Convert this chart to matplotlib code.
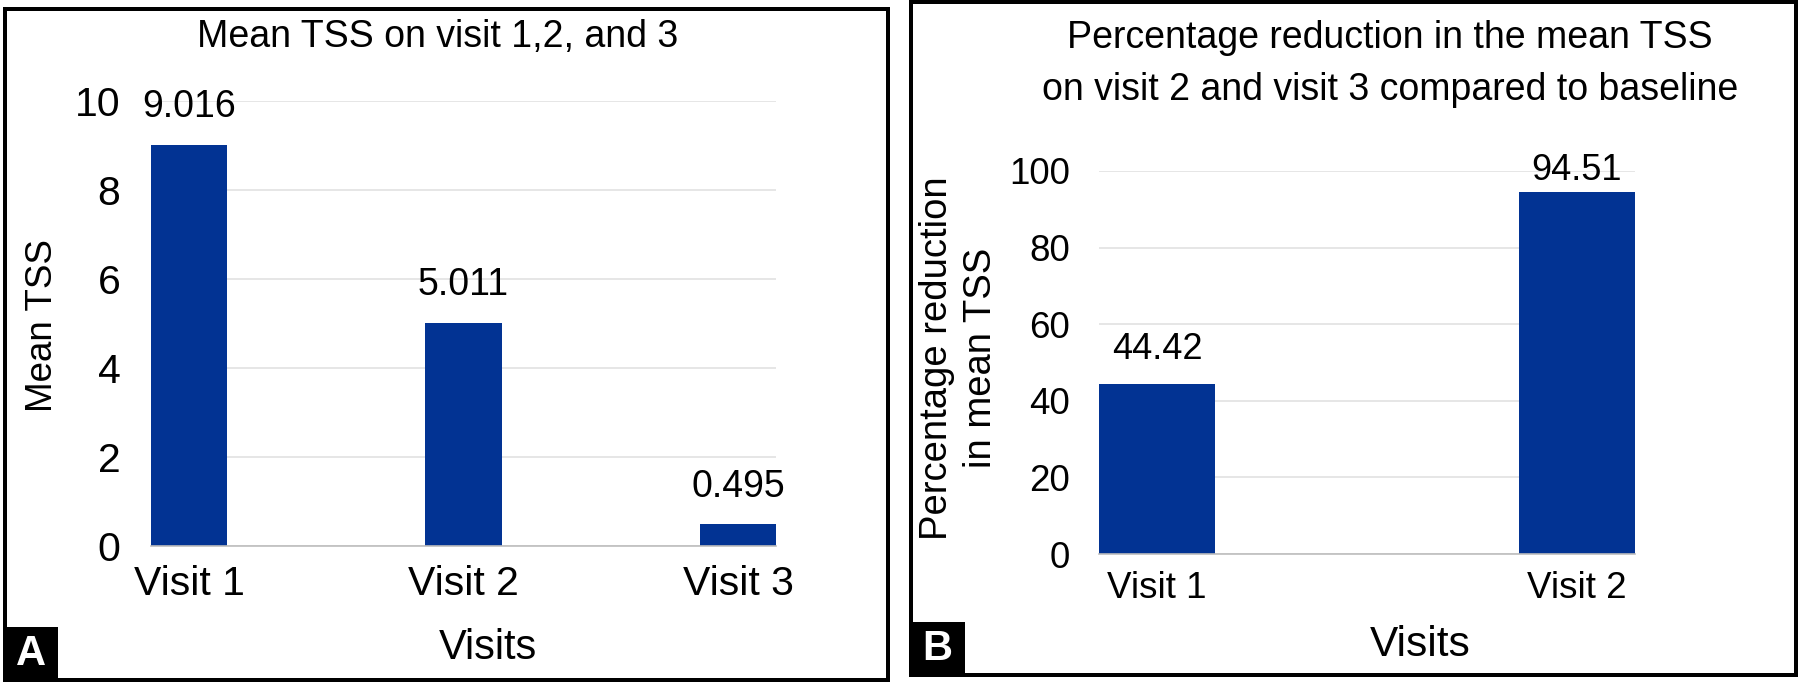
import matplotlib
matplotlib.use("Agg")
import matplotlib.pyplot as plt
import matplotlib.patches as mpatches

plt.rcParams['font.family'] = ['Liberation Sans', 'DejaVu Sans']

# panel A data
visits_a = ['Visit 1', 'Visit 2', 'Visit 3']
mean_tss = [9.016, 5.011, 0.495]
labels_a = ['9.016', '5.011', '0.495']

# panel B data
visits_b = ['Visit 1', 'Visit 2']
pct_reduction = [44.42, 94.51]
labels_b = ['44.42', '94.51']

BAR = '#023393'
GRID = '#e2e2e2'
W, H = 1799, 697
bw = 0.277

fig = plt.figure(figsize=(W / 100, H / 100), dpi=100)


def px(x, y):
    # pixel (top-left origin) -> figure fraction
    return x / W, 1 - y / H


def style(ax, fs):
    for s in ['top', 'right', 'left']:
        ax.spines[s].set_visible(False)
    ax.spines['bottom'].set_color('#bdbdbd')
    ax.spines['bottom'].set_linewidth(1.2)
    ax.yaxis.grid(True, color=GRID, linewidth=1.2)
    ax.set_axisbelow(True)
    ax.tick_params(length=0, labelsize=fs)


# ---- panel A
axA = fig.add_axes([151 / W, (H - 546) / H, 625 / W, 445.3 / H])
xa = list(range(len(visits_a)))
axA.bar(xa, mean_tss, width=bw, color=BAR)
axA.set_xlim(-bw / 2, len(xa) - 1 + bw / 2)
axA.set_ylim(0, 10)
axA.set_yticks([0, 2, 4, 6, 8, 10])
axA.set_xticks(xa)
axA.set_xticklabels(visits_a)
style(axA, 29.5)
axA.tick_params(axis='y', pad=22)
axA.tick_params(axis='x', pad=14)
for x, v, t in zip(xa, mean_tss, labels_a):
    axA.annotate(t, (x, v), xytext=(0, 14), textcoords='offset points',
                 ha='center', va='bottom', fontsize=27)

fig.text(*px(438, 37), 'Mean TSS on visit 1,2, and 3', ha='center', va='center', fontsize=27)
fig.text(*px(43, 326), 'Mean TSS', ha='center', va='center', rotation=90, fontsize=26.5)
fig.text(*px(488, 648), 'Visits', ha='center', va='center', fontsize=30)

# ---- panel B
axB = fig.add_axes([1099 / W, (H - 554) / H, 536 / W, 383 / H])
xb = list(range(len(visits_b)))
axB.bar(xb, pct_reduction, width=bw, color=BAR)
axB.set_xlim(-bw / 2, len(xb) - 1 + bw / 2)
axB.set_ylim(0, 100)
axB.set_yticks([0, 20, 40, 60, 80, 100])
axB.set_xticks(xb)
axB.set_xticklabels(visits_b)
style(axB, 26.5)
axB.tick_params(axis='y', pad=21)
axB.tick_params(axis='x', pad=12)
for x, v, t, off in zip(xb, pct_reduction, labels_b, [12, 3]):
    axB.annotate(t, (x, v), xytext=(0, off), textcoords='offset points',
                 ha='center', va='bottom', fontsize=26)

fig.text(*px(1390, 64), 'Percentage reduction in the mean TSS\non visit 2 and visit 3 compared to baseline',
         ha='center', va='center', fontsize=27, linespacing=1.55)
fig.text(*px(959, 358), 'Percentage reduction\nin mean TSS', ha='center', va='center',
         rotation=90, fontsize=27.5, linespacing=1.3)
fig.text(*px(1420, 645), 'Visits', ha='center', va='center', fontsize=30.5)

# ---- panel frames and letters
lw = 4 * 72 / 100
for (l, t, r, b) in [(5, 8.5, 888, 680), (911, 1.5, 1796, 675)]:
    x0, y0 = px(l, b)
    x1, y1 = px(r, t)
    fig.patches.append(mpatches.Rectangle((x0, y0), x1 - x0, y1 - y0, transform=fig.transFigure,
                                          fill=False, edgecolor='black', linewidth=lw))

for (l, t, r, b), letter in [((4, 627, 58, 681), 'A'), ((910, 622, 965, 676), 'B')]:
    x0, y0 = px(l, b)
    x1, y1 = px(r, t)
    fig.patches.append(mpatches.Rectangle((x0, y0), x1 - x0, y1 - y0, transform=fig.transFigure,
                                          facecolor='black', edgecolor='none'))
    fig.text((x0 + x1) / 2, (y0 + y1) / 2, letter, color='white', fontsize=30,
             fontweight='bold', ha='center', va='center')

fig.savefig('out.png', dpi=100)
